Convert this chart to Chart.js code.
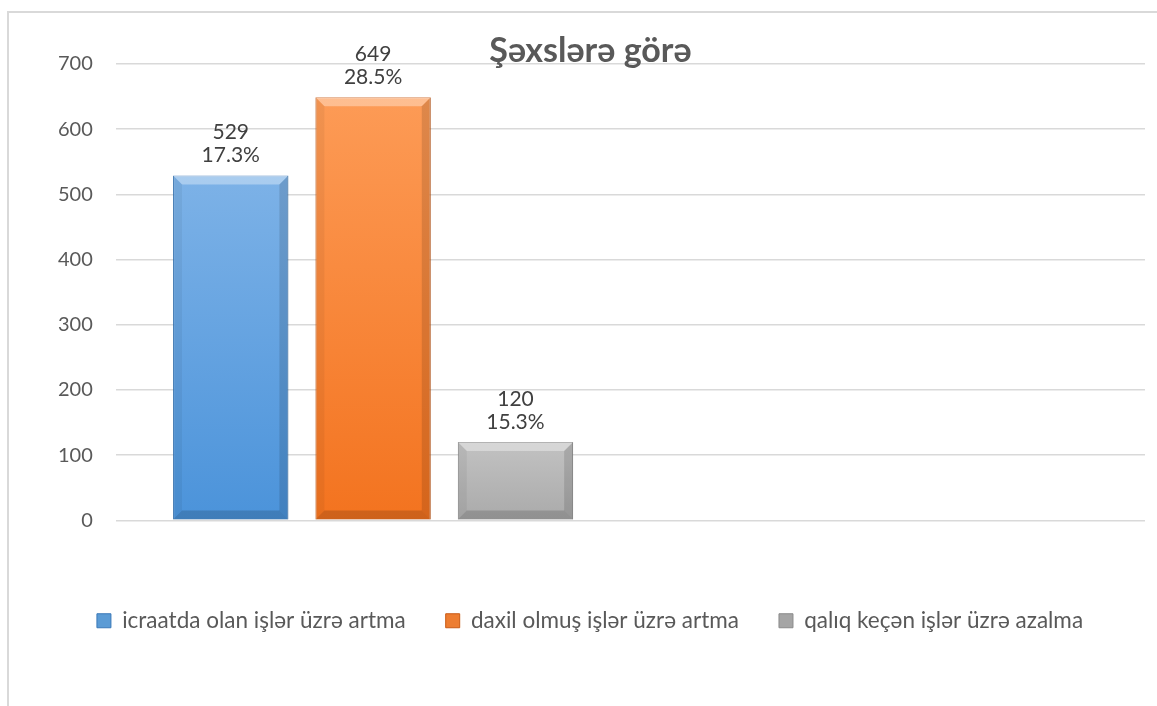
<!DOCTYPE html>
<html>
<head>
<meta charset="utf-8">
<script src="https://cdn.jsdelivr.net/npm/chart.js@4.4.1/dist/chart.umd.min.js"></script>
<style>
    html, body { margin: 0; padding: 0; background: #fff; }
    #wrap { position: relative; width: 1157px; height: 706px; overflow: hidden; }
    #frame { position: absolute; left: 7px; top: 11px; width: 1200px; height: 800px; border: 2px solid #d9d9d9; box-sizing: border-box; }
    canvas { position: absolute; left: 0; top: 0; }
</style>
</head>
<body>
<div id="wrap">
    <div id="frame"></div>
    <canvas id="chart" width="1157" height="706"></canvas>
</div>
<script>
// Dados do gráfico
const categories = ["", ""];
const seriesNames = ["icraatda olan işlər üzrə artma", "daxil olmuş işlər üzrə artma", "qalıq keçən işlər üzrə azalma"];
const seriesValues = [529, 649, 120];
const seriesPercents = ["17.3%", "28.5%", "15.3%"];
const yTicks = [0, 100, 200, 300, 400, 500, 600, 700];
const chartTitle = "Şəxslərə görə";

// cores: topo claro, base escura, borda, legenda
const topColors = ["#7db2e7", "#fd9b56", "#c2c2c2"];
const bottomColors = ["#4b93da", "#f3731f", "#aaaaaa"];
const edgeColors = ["#3a78b8", "#c95a14", "#8a8a8a"];
const legendColors = ["#5b9bd5", "#ed7d31", "#a5a5a5"];

const textColor = "#595959";
const fontFamily = "Lato, 'Noto Sans', sans-serif";

// Gradiente vertical por barra
function barGradient(ctx, i) {
    const chart = ctx.chart;
    const yScale = chart.scales.y;
    if (!yScale || ctx.parsed == null || ctx.parsed.y == null) return legendColors[i];
    const top = yScale.getPixelForValue(ctx.parsed.y);
    const base = yScale.getPixelForValue(0);
    const g = chart.ctx.createLinearGradient(0, top, 0, base);
    g.addColorStop(0, topColors[i]);
    g.addColorStop(1, bottomColors[i]);
    return g;
}

function poly(ctx, pts, color) {
    ctx.beginPath();
    ctx.moveTo(pts[0][0], pts[0][1]);
    for (let k = 1; k < pts.length; k++) ctx.lineTo(pts[k][0], pts[k][1]);
    ctx.closePath();
    ctx.fillStyle = color;
    ctx.fill();
}

// Efeito de chanfro nas barras + rótulos
const barDecor = {
    id: "barDecor",
    afterDatasetsDraw(chart) {
        const ctx = chart.ctx;
        ctx.save();
        chart.data.datasets.forEach((ds, i) => {
            const bar = chart.getDatasetMeta(i).data[0];
            if (!bar) return;
            const l = bar.x - bar.width / 2, r = bar.x + bar.width / 2;
            const t = bar.y, b = bar.base, s = 9;
            poly(ctx, [[l, t], [r, t], [r - s, t + s], [l + s, t + s]], "rgba(255,255,255,0.35)");
            poly(ctx, [[l, t], [l + s, t + s], [l + s, b - s], [l, b]], "rgba(0,0,0,0.05)");
            poly(ctx, [[r, t], [r - s, t + s], [r - s, b - s], [r, b]], "rgba(0,0,0,0.12)");
            poly(ctx, [[l, b], [l + s, b - s], [r - s, b - s], [r, b]], "rgba(0,0,0,0.15)");
        });
        ctx.fillStyle = "#404040";
        ctx.font = "21px " + fontFamily;
        ctx.textAlign = "center";
        ctx.textBaseline = "middle";
        chart.data.datasets.forEach((ds, i) => {
            const bar = chart.getDatasetMeta(i).data[0];
            if (!bar) return;
            ctx.fillText(String(seriesValues[i]), bar.x, bar.y - 43);
            ctx.fillText(seriesPercents[i], bar.x, bar.y - 20);
        });
        ctx.restore();
    }
};

// Título sobreposto à área do gráfico
const overlayTitle = {
    id: "overlayTitle",
    afterDraw(chart) {
        const ctx = chart.ctx;
        ctx.save();
        ctx.fillStyle = textColor;
        ctx.font = "bold 34px " + fontFamily;
        ctx.textAlign = "center";
        ctx.textBaseline = "middle";
        ctx.fillText(chartTitle, chart.width / 2 + 12, 51);
        ctx.restore();
    }
};

const datasets = seriesNames.map((name, i) => ({
    label: name,
    data: categories.map((c, k) => (k === 0 ? seriesValues[i] : null)),
    backgroundColor: ctx => barGradient(ctx, i),
    borderColor: edgeColors[i],
    borderWidth: 1,
    categoryPercentage: 0.83,
    barPercentage: 0.81
}));

new Chart(document.getElementById("chart"), {
    type: "bar",
    data: { labels: categories, datasets: datasets },
    options: {
        responsive: false,
        animation: false,
        layout: { padding: { top: 64, left: 35, right: 12, bottom: 64 } },
        scales: {
            x: {
                grid: { display: false, drawTicks: false },
                border: { display: false },
                ticks: { padding: 12, font: { size: 21, family: fontFamily } }
            },
            y: {
                min: 0,
                max: 700,
                afterBuildTicks: axis => { axis.ticks = yTicks.map(v => ({ value: v })); },
                grid: { color: "#d9d9d9", lineWidth: 1.5, drawTicks: false },
                border: { display: false },
                ticks: { padding: 23, color: textColor, font: { size: 20, family: fontFamily } }
            }
        },
        plugins: {
            title: { display: false },
            tooltip: { enabled: false },
            legend: {
                position: "bottom",
                labels: {
                    color: textColor,
                    font: { size: 22.5, family: fontFamily },
                    boxWidth: 14,
                    boxHeight: 14,
                    padding: 40,
                    generateLabels: chart => seriesNames.map((name, i) => ({
                        text: name,
                        fillStyle: legendColors[i],
                        strokeStyle: edgeColors[i],
                        lineWidth: 1,
                        fontColor: textColor,
                        datasetIndex: i,
                        hidden: false
                    }))
                }
            }
        }
    },
    plugins: [barDecor, overlayTitle]
});
</script>
</body>
</html>
